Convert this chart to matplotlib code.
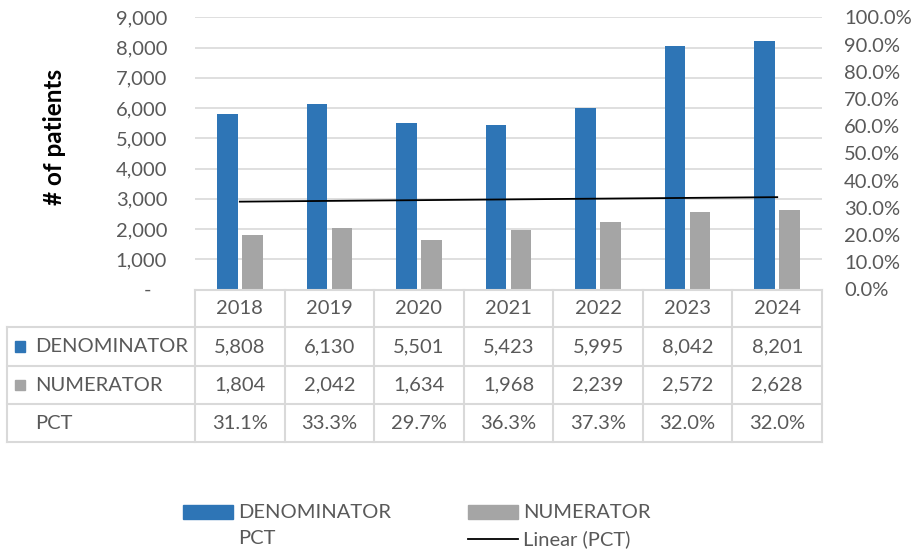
import matplotlib
matplotlib.use("Agg")
import matplotlib.pyplot as plt
import numpy as np
from matplotlib.lines import Line2D
from matplotlib.patches import Rectangle

years = ['2018', '2019', '2020', '2021', '2022', '2023', '2024']
denominator = [5808, 6130, 5501, 5423, 5995, 8042, 8201]
numerator = [1804, 2042, 1634, 1968, 2239, 2572, 2628]
pct = [0.311, 0.333, 0.297, 0.363, 0.373, 0.320, 0.320]

plt.rcParams['font.family'] = ['Lato', 'DejaVu Sans']
TXT = '#595959'
GRID = '#D9D9D9'
BLUE = '#2E75B6'
GRAY = '#A5A5A5'
FS = 14.5

W, H = 918, 553
fig = plt.figure(figsize=(W / 100, H / 100), dpi=100)


def fx(px):
    return px / W


def fy(py):
    return 1 - py / H


# ---- plot area (pixel edges)
L, R, T, B = 195, 822, 17.3, 289.5
ax = fig.add_axes([fx(L), fy(B), fx(R) - fx(L), fy(T) - fy(B)])
x = np.arange(len(years))
ax.bar(x - 0.14, denominator, 0.23, color=BLUE, zorder=3)
ax.bar(x + 0.14, numerator, 0.23, color=GRAY, zorder=3)
ax.set_xlim(-0.5, len(years) - 0.5)
ax.set_ylim(0, 9000)
ticks = list(range(0, 9001, 1000))
ax.set_yticks(ticks)
ax.set_yticklabels(['-   '] + [f'{v:,}' for v in ticks[1:]])
ax.tick_params(axis='y', length=0, pad=20, labelsize=FS, labelcolor=TXT)
ax.set_xticks([])
ax.grid(axis='y', color=GRID, lw=1.2, zorder=0)
ax.set_axisbelow(True)
for s in ax.spines.values():
    s.set_visible(False)

ax2 = ax.twinx()
ax2.set_ylim(0, 1)
pticks = np.arange(0, 11) / 10
ax2.set_yticks(pticks)
ax2.set_yticklabels([f'{v:.1%}' for v in pticks])
ax2.tick_params(axis='y', length=0, pad=16, labelsize=FS, labelcolor=TXT)
ax2.plot(x, pct, lw=0)  # PCT series has no visible line
# Linear (PCT) trendline
slope, icpt = np.polyfit(x, pct, 1)
ax2.plot(x, slope * x + icpt, color='black', lw=1.3)
for s in ax2.spines.values():
    s.set_visible(False)

fig.text(fx(54), fy(137), '# of patients', rotation=90, fontsize=17.5,
         weight='bold', color='black', ha='center', va='center')

# ---- data table
def hline(y, x0, x1):
    fig.add_artist(Line2D([fx(x0), fx(x1)], [fy(y), fy(y)],
                          transform=fig.transFigure, color=GRID, lw=1.5))


def vline(xp, y0, y1):
    fig.add_artist(Line2D([fx(xp), fx(xp)], [fy(y0), fy(y1)],
                          transform=fig.transFigure, color=GRID, lw=1.5))


rows_y = [290, 327.3, 366, 404.3, 442.3]
colw = (R - L) / len(years)
hline(rows_y[0], L, R)
for y in rows_y[1:]:
    hline(y, 7, R)
vline(7, rows_y[1], rows_y[-1])
for k in range(len(years) + 1):
    vline(L + k * colw, rows_y[0], rows_y[-1])

table_rows = [
    ('DENOMINATOR', BLUE, [f'{v:,}' for v in denominator]),
    ('NUMERATOR', GRAY, [f'{v:,}' for v in numerator]),
    ('PCT', None, [f'{v:.1%}' for v in pct]),
]

for k, yr in enumerate(years):
    fig.text(fx(L + (k + 0.5) * colw), fy((rows_y[0] + rows_y[1]) / 2), yr,
             ha='center', va='center', fontsize=FS, color=TXT)

for r, (name, col, vals) in enumerate(table_rows):
    yc = (rows_y[r + 1] + rows_y[r + 2]) / 2
    if col:
        fig.add_artist(Rectangle((fx(15), fy(yc + 5)), 9.5 / W, 10.5 / H,
                                 transform=fig.transFigure, color=col))
    fig.text(fx(35), fy(yc), name, ha='left', va='center', fontsize=FS, color=TXT)
    for k, v in enumerate(vals):
        fig.text(fx(L + (k + 0.5) * colw), fy(yc), v,
                 ha='center', va='center', fontsize=FS, color=TXT)

# ---- legend
fig.add_artist(Rectangle((fx(183), fy(519)), 50 / W, 14 / H,
                         transform=fig.transFigure, color=BLUE))
fig.text(fx(238), fy(512), 'DENOMINATOR', ha='left', va='center', fontsize=FS, color=TXT)
fig.text(fx(238), fy(539), 'PCT', ha='left', va='center', fontsize=FS, color=TXT)
fig.add_artist(Rectangle((fx(468), fy(519)), 50 / W, 14 / H,
                         transform=fig.transFigure, color=GRAY))
fig.text(fx(523), fy(512), 'NUMERATOR', ha='left', va='center', fontsize=FS, color=TXT)
fig.add_artist(Line2D([fx(468), fx(518)], [fy(539), fy(539)],
                      transform=fig.transFigure, color='black', lw=1.3))
fig.text(fx(523), fy(539), 'Linear (PCT)', ha='left', va='center', fontsize=FS, color=TXT)

fig.savefig('out.png', dpi=100)
plt.close(fig)
